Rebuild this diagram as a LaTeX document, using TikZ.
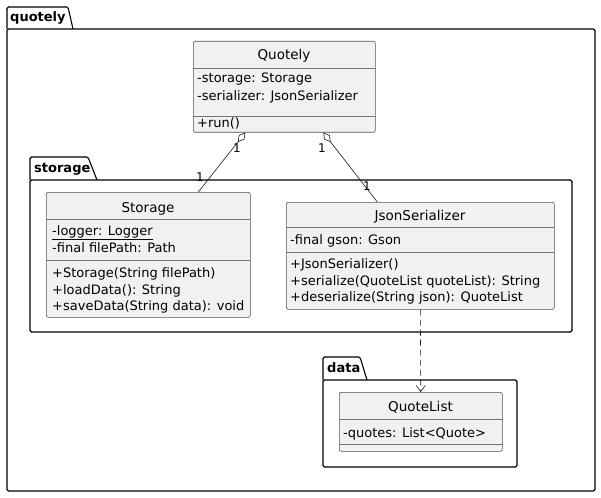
\documentclass[tikz,border=0pt]{standalone}
\usepackage{fontspec}
\setmainfont{DejaVu Sans}
\usetikzlibrary{arrows.meta}
\definecolor{classbg}{HTML}{F1F1F1}
\definecolor{classbd}{HTML}{181818}
\tikzset{
  pkg/.style={draw=black, line width=1.1pt, rounded corners=1.5pt},
  cls/.style={draw=classbd!75, fill=classbg, line width=0.6pt, rounded corners=2pt, inner sep=0, anchor=north west},
  sepline/.style={draw=classbd!60, line width=0.6pt},
  mem/.style={anchor=base west, inner sep=0, font=\fontsize{13}{15}\selectfont},
  ttl/.style={anchor=base, inner sep=0, font=\fontsize{13.5}{15}\selectfont},
  pkgl/.style={anchor=base west, inner sep=0, font=\bfseries\fontsize{13}{15}\selectfont},
  mult/.style={inner sep=0, font=\fontsize{12}{13}\selectfont},
  link/.style={draw=classbd, line width=0.6pt},
}
\begin{document}
\begin{tikzpicture}[x=1pt,y=-1pt]
\useasboundingbox (0,0) rectangle (601,497);
% package quotely
\draw[pkg] (7,29) -- (7,7) -- (68,7) -- (73,29);
\draw[pkg] (7,29) rectangle (595,491);
\node[pkgl] (pq) at (10,22) {quotely};
% package storage
\draw[pkg] (30,180) -- (30,157) -- (88,157) -- (97,180);
\draw[pkg] (30,180) rectangle (572,332);
\node[pkgl] (ps) at (34,172) {storage};
% package data
\draw[pkg] (323,380) -- (323,357) -- (360,357) -- (367,380);
\draw[pkg] (323,380) rectangle (517,467);
\node[pkgl] (pd) at (327,372) {data};

% class Quotely
\node[cls, minimum width=182pt, minimum height=91pt] (quotely) at (193,41) {};
\draw[sepline] (193,68) -- (375,68);
\draw[sepline] (193,116) -- (375,116);
\node[ttl] (qt) at (284,60) {Quotely};
\node[mem] (q1) at (197,83) {-storage: Storage};
\node[mem] (q2) at (197,101) {-serializer: JsonSerializer};
\node[mem] (q3) at (197,127.5) {+run()};

% class Storage
\node[cls, minimum width=204pt, minimum height=125pt] (storage) at (46,192) {};
\draw[sepline] (46,219) -- (250,219);
\draw[sepline] (46,260) -- (250,260);
\node[ttl] (st) at (148,212) {Storage};
\node[mem] (s1) at (52,235.5) {\underline{-logger: Logger}};
\node[mem] (s2) at (52,252) {-final filePath: Path};
\node[mem] (s3) at (52,277.5) {+Storage(String filePath)};
\node[mem] (s4) at (52,294) {+loadData(): String};
\node[mem] (s5) at (52,310.5) {+saveData(String data): void};

% class JsonSerializer
\node[cls, minimum width=268pt, minimum height=107pt] (json) at (286,202) {};
\draw[sepline] (286,227) -- (554,227);
\draw[sepline] (286,252) -- (554,252);
\node[ttl] (jt) at (420,220) {JsonSerializer};
\node[mem] (j1) at (290,244.5) {-final gson: Gson};
\node[mem] (j2) at (290,268.5) {+JsonSerializer()};
\node[mem] (j3) at (290,285) {+serialize(QuoteList quoteList): String};
\node[mem] (j4) at (290,301.5) {+deserialize(String json): QuoteList};

% class QuoteList
\node[cls, minimum width=163pt, minimum height=59pt] (qlist) at (339,392) {};
\draw[sepline] (339,419) -- (502,419);
\draw[sepline] (339,444) -- (502,444);
\node[ttl] (qlt) at (420.5,411) {QuoteList};
\node[mem] (ql1) at (343,437) {-quotes: List<Quote>};

% links
\draw[link, {Diamond[open, length=12pt, width=7pt]}-] ([xshift=-39pt]quotely.south) -- ([xshift=50pt]storage.north);
\draw[link, {Diamond[open, length=12pt, width=7pt]}-] ([xshift=39pt]quotely.south) -- ([xshift=-43pt]json.north);
\draw[link, dash pattern=on 6pt off 4pt, -{Straight Barb[length=6pt, width=9pt]}] (json.south) -- (qlist.north);

\node[mult] (m1) at (237,148) {1};
\node[mult] (m2) at (200,177) {1};
\node[mult] (m3) at (322,148) {1};
\node[mult] (m4) at (367,186) {1};
\end{tikzpicture}
\end{document}
